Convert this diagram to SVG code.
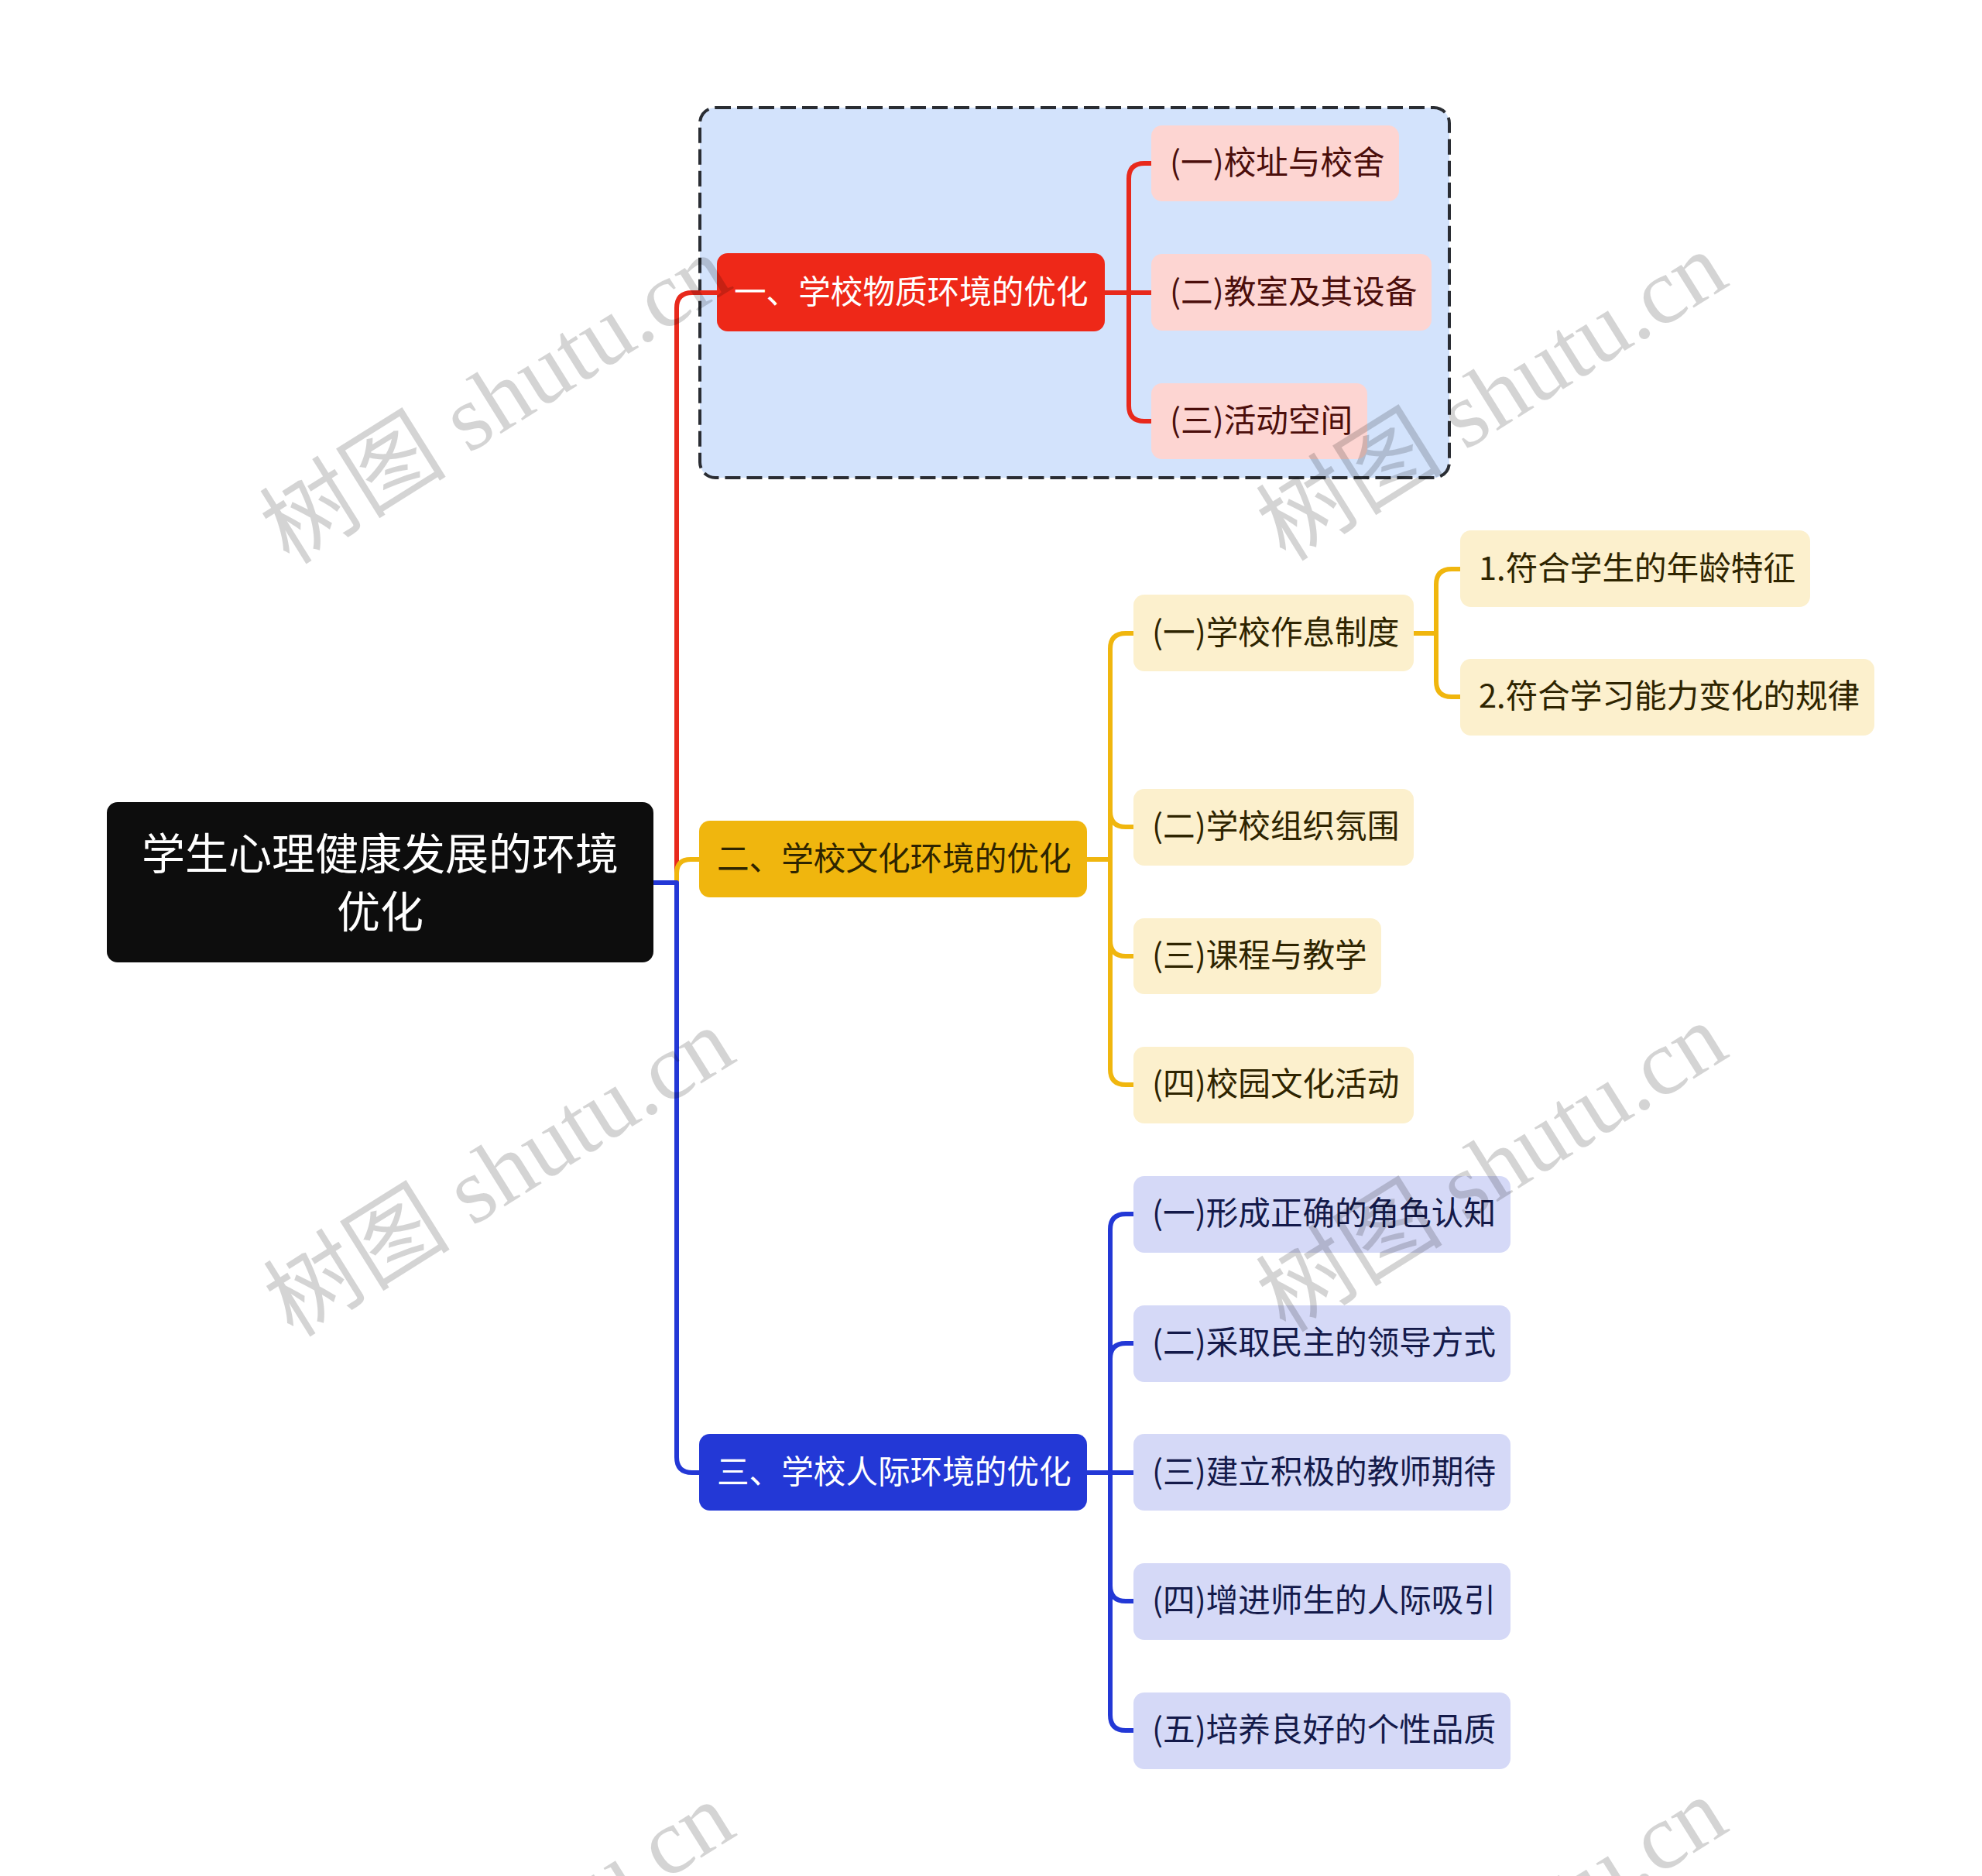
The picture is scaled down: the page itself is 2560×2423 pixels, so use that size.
<svg xmlns="http://www.w3.org/2000/svg" width="2560" height="2423" viewBox="0 0 2560 2423">
<style>
text{font-family:"Noto Sans CJK SC","Noto Sans",sans-serif;dominant-baseline:central}
.n{font-size:41.6px;transform:translate(0px,-4px)}
.root{font-size:56px;fill:#ffffff;text-anchor:middle;transform:translate(0px,-4px)}
.w{fill:#ffffff}
.tr{fill:#4b0e0b}
.ty{fill:#2e2400}
.tb{fill:#141a4a}
.cr{fill:none;stroke:#e8291c;stroke-width:6;stroke-linecap:round;stroke-linejoin:round}
.cy{fill:none;stroke:#f0b60e;stroke-width:6;stroke-linecap:round;stroke-linejoin:round}
.cb{fill:none;stroke:#2338d6;stroke-width:6;stroke-linecap:round;stroke-linejoin:round}
.pr{fill:#fdd5d2}
.py{fill:#fcf0cd}
.pb{fill:#d5d9f7}
.wm{font-family:"Liberation Serif","Noto Sans CJK SC",serif;font-size:121px;fill:#000000;fill-opacity:0.17;text-anchor:middle}
</style>
<rect width="2560" height="2423" fill="#ffffff"/>
<g id="group-box">
<rect x="904" y="139" width="968" height="478" rx="20" fill="#d3e3fc" stroke="#2a2d33" stroke-width="4" stroke-dasharray="20 8"/>
</g>
<g id="connectors">
<path class="cr" d="M844 1140 H874 V398 Q874 378 894 378 H926"/>
<path class="cy" d="M844 1140 H874 V1128 Q874 1110 892 1110 H903"/>
<path class="cb" d="M844 1140 H874 V1882 Q874 1902 894 1902 H903"/>
<path class="cr" d="M1427 378 H1458 V231 Q1458 211 1478 211 H1487"/>
<path class="cr" d="M1427 378 H1487"/>
<path class="cr" d="M1458 378 V524 Q1458 544 1478 544 H1487"/>
<path class="cy" d="M1404 1110 H1434 V838 Q1434 818 1454 818 H1464"/>
<path class="cy" d="M1434 1110 V1048 Q1434 1068 1454 1068 H1464"/>
<path class="cy" d="M1434 1048 V1068"/>
<path class="cy" d="M1434 1110 V1215 Q1434 1235 1454 1235 H1464"/>
<path class="cy" d="M1434 1215 V1381 Q1434 1401 1454 1401 H1464"/>
<path class="cy" d="M1826 818 H1855 V755 Q1855 735 1875 735 H1886"/>
<path class="cy" d="M1855 818 V880 Q1855 900 1875 900 H1886"/>
<path class="cb" d="M1404 1902 H1434 V1588 Q1434 1568 1454 1568 H1464"/>
<path class="cb" d="M1434 1902 V1755 Q1434 1735 1454 1735 H1464"/>
<path class="cb" d="M1434 1902 H1464"/>
<path class="cb" d="M1434 1902 V2048 Q1434 2068 1454 2068 H1464"/>
<path class="cb" d="M1434 2048 V2215 Q1434 2235 1454 2235 H1464"/>
</g>
<g id="root">
<rect x="138" y="1036" width="706" height="207" rx="14" fill="#0d0d0d"/>
<text class="root" x="491" y="1102">学生心理健康发展的环境</text>
<text class="root" x="491" y="1177">优化</text>
</g>
<g id="n1">
<rect x="926" y="327" width="501" height="101" rx="14" fill="#ee2818"/>
<text class="n w" x="948" y="378">一、学校物质环境的优化</text>
</g>
<g id="n1-1">
<rect class="pr" x="1487" y="162" width="320" height="98" rx="14"/>
<text class="n tr" x="1511" y="211">(一)校址与校舍</text>
</g>
<g id="n1-2">
<rect class="pr" x="1487" y="328" width="362" height="99" rx="14"/>
<text class="n tr" x="1511" y="378">(二)教室及其设备</text>
</g>
<g id="n1-3">
<rect class="pr" x="1487" y="495" width="279" height="98" rx="14"/>
<text class="n tr" x="1511" y="544">(三)活动空间</text>
</g>
<g id="n2">
<rect x="903" y="1060" width="501" height="99" rx="14" fill="#f0b60e"/>
<text class="n ty" x="926" y="1110">二、学校文化环境的优化</text>
</g>
<g id="n2-1">
<rect class="py" x="1464" y="768" width="362" height="99" rx="14"/>
<text class="n ty" x="1488" y="818">(一)学校作息制度</text>
</g>
<g id="n2-1-1">
<rect class="py" x="1886" y="685" width="452" height="99" rx="14"/>
<text class="n ty" x="1910" y="735">1.符合学生的年龄特征</text>
</g>
<g id="n2-1-2">
<rect class="py" x="1886" y="851" width="535" height="99" rx="14"/>
<text class="n ty" x="1910" y="900">2.符合学习能力变化的规律</text>
</g>
<g id="n2-2">
<rect class="py" x="1464" y="1019" width="362" height="99" rx="14"/>
<text class="n ty" x="1488" y="1068">(二)学校组织氛围</text>
</g>
<g id="n2-3">
<rect class="py" x="1464" y="1186" width="320" height="98" rx="14"/>
<text class="n ty" x="1488" y="1235">(三)课程与教学</text>
</g>
<g id="n2-4">
<rect class="py" x="1464" y="1352" width="362" height="99" rx="14"/>
<text class="n ty" x="1488" y="1401">(四)校园文化活动</text>
</g>
<g id="n3">
<rect x="903" y="1852" width="501" height="99" rx="14" fill="#2338d6"/>
<text class="n w" x="926" y="1902">三、学校人际环境的优化</text>
</g>
<g id="n3-1">
<rect class="pb" x="1464" y="1519" width="487" height="99" rx="14"/>
<text class="n tb" x="1488" y="1568">(一)形成正确的角色认知</text>
</g>
<g id="n3-2">
<rect class="pb" x="1464" y="1686" width="487" height="99" rx="14"/>
<text class="n tb" x="1488" y="1735">(二)采取民主的领导方式</text>
</g>
<g id="n3-3">
<rect class="pb" x="1464" y="1852" width="487" height="99" rx="14"/>
<text class="n tb" x="1488" y="1902">(三)建立积极的教师期待</text>
</g>
<g id="n3-4">
<rect class="pb" x="1464" y="2019" width="487" height="99" rx="14"/>
<text class="n tb" x="1488" y="2068">(四)增进师生的人际吸引</text>
</g>
<g id="n3-5">
<rect class="pb" x="1464" y="2186" width="487" height="99" rx="14"/>
<text class="n tb" x="1488" y="2235">(五)培养良好的个性品质</text>
</g>
<g id="watermarks">
<text class="wm" transform="translate(640 516) rotate(-32)">树图 shutu.cn</text>
<text class="wm" transform="translate(1927 512) rotate(-32)">树图 shutu.cn</text>
<text class="wm" transform="translate(645 1514) rotate(-32)">树图 shutu.cn</text>
<text class="wm" transform="translate(1927 1508) rotate(-32)">树图 shutu.cn</text>
<text class="wm" transform="translate(645 2514) rotate(-32)">树图 shutu.cn</text>
<text class="wm" transform="translate(1927 2508) rotate(-32)">树图 shutu.cn</text>
</g>
</svg>
